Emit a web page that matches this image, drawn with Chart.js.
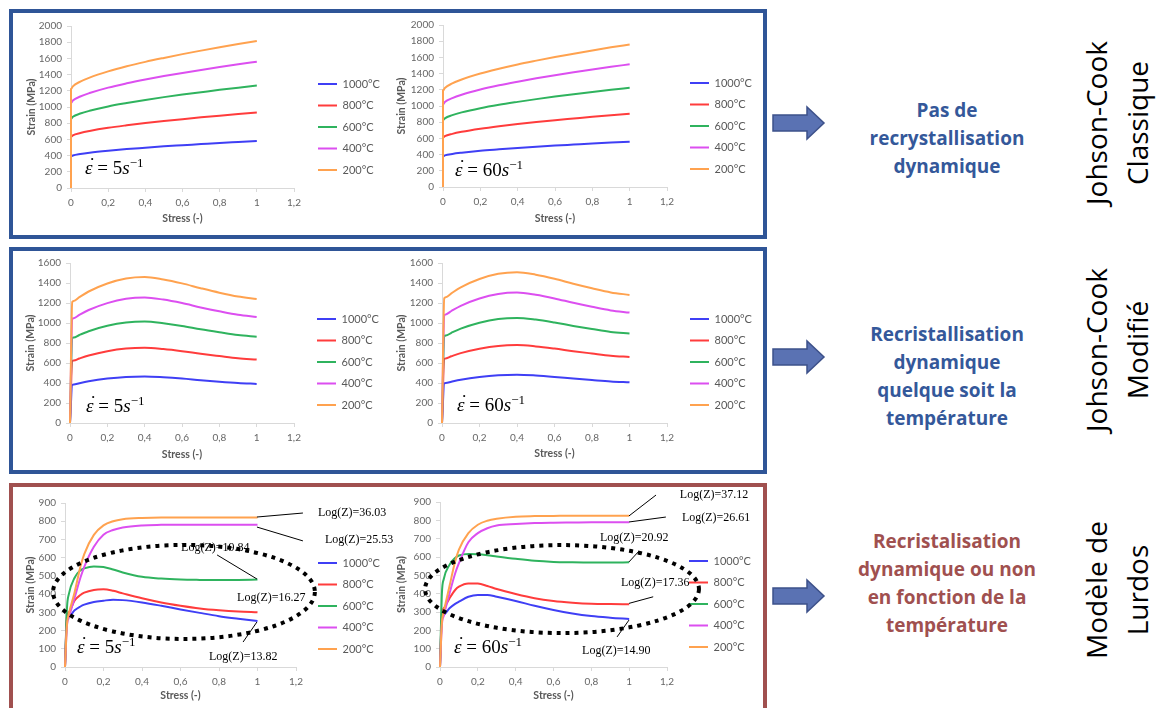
<!DOCTYPE html>
<html>
<head>
<meta charset="utf-8">
<script src="https://cdn.jsdelivr.net/npm/chart.js"></script>
<style>
  body { margin: 0; width: 1156px; height: 708px; overflow: hidden; position: relative; background: #fff; font-family: Lato, sans-serif; }
  .frame { position: absolute; box-sizing: border-box; left: 9px; width: 758px; border: 4px solid #2f5597; }
  .frame.red { border-color: #a0504f; }
  canvas { position: absolute; z-index: 2; }
  .rate { position: absolute; z-index: 3; font-family: "Liberation Serif", serif; font-size: 19px; color: #000; white-space: nowrap; transform: translateY(-50%); }
  .rate i { font-style: italic; }
  .rate .ed { position: relative; font-style: italic; }
  .rate .ed::after { content: "\02D9"; position: absolute; left: 4px; top: -3px; font-style: normal; }
  .rate sup { font-size: 13px; vertical-align: 7px; line-height: 0; }
  .note { position: absolute; left: 817px; width: 260px; text-align: center; font-family: "Open Sans", sans-serif; font-weight: 700; font-size: 19px; line-height: 28px; transform: translateY(-50%); }
  .note.blue { color: #34589a; }
  .note.red { color: #a0504f; }
  .side { position: absolute; left: 1117px; font-family: "Open Sans", sans-serif; font-size: 28px; line-height: 41px; color: #000; text-align: center; white-space: nowrap; transform: translate(-50%, -50%) rotate(-90deg); }
  .arrow { position: absolute; left: 771px; width: 56px; height: 36px; }
</style>
</head>
<body>

<div class="frame" style="top:9px;height:230px"></div>
<div class="frame" style="top:247px;height:227px"></div>
<div class="frame red" style="top:483px;height:240px"></div>

<div class="rate" style="left:85px;top:168px"><span class="ed">ε</span> = 5<i>s</i><sup>−1</sup></div>
<div class="rate" style="left:455px;top:170px"><span class="ed">ε</span> = 60<i>s</i><sup>−1</sup></div>
<div class="rate" style="left:86px;top:406px"><span class="ed">ε</span> = 5<i>s</i><sup>−1</sup></div>
<div class="rate" style="left:457px;top:405px"><span class="ed">ε</span> = 60<i>s</i><sup>−1</sup></div>
<div class="rate" style="left:77px;top:647px"><span class="ed">ε</span> = 5<i>s</i><sup>−1</sup></div>
<div class="rate" style="left:454px;top:647px"><span class="ed">ε</span> = 60<i>s</i><sup>−1</sup></div>

<svg class="arrow" style="top:105px"><polygon points="2,10 36,10 36,2 53,18 36,34 36,26 2,26" fill="#5a72b3" stroke="#3d518a" stroke-width="1.5"/></svg>
<svg class="arrow" style="top:339px"><polygon points="2,10 36,10 36,2 53,18 36,34 36,26 2,26" fill="#5a72b3" stroke="#3d518a" stroke-width="1.5"/></svg>
<svg class="arrow" style="top:578px"><polygon points="2,10 36,10 36,2 53,18 36,34 36,26 2,26" fill="#5a72b3" stroke="#3d518a" stroke-width="1.5"/></svg>

<div class="note blue" style="top:138px">Pas de<br>recrystallisation<br>dynamique</div>
<div class="note blue" style="top:376px">Recristallisation<br>dynamique<br>quelque soit la<br>température</div>
<div class="note red" style="top:583px">Recristalisation<br>dynamique ou non<br>en fonction de la<br>température</div>

<div class="side" style="top:123px">Johson-Cook<br>Classique</div>
<div class="side" style="top:350px">Johson-Cook<br>Modifié</div>
<div class="side" style="top:590px">Modèle de<br>Lurdos</div>

<script>
// ===== DATA =====
const tempLabels = ["1000°C", "800°C", "600°C", "400°C", "200°C"];
const xTickLabels = ["0", "0,2", "0,4", "0,6", "0,8", "1", "1,2"];

// Johnson-Cook classique
const jcStrain = [0, 0, 0.01, 0.05, 0.1, 0.2, 0.3, 0.4, 0.5, 0.6, 0.7, 0.8, 0.9, 1];
const jcClassic5 = [
  [0, 390, 401, 420, 436, 460, 480, 497, 514, 528, 542, 556, 568, 580],
  [0, 632, 650, 679, 704, 743, 774, 802, 827, 850, 872, 893, 913, 932],
  [0, 855, 880, 919, 953, 1007, 1049, 1087, 1122, 1154, 1183, 1212, 1239, 1265],
  [0, 1050, 1080, 1130, 1172, 1239, 1292, 1339, 1382, 1421, 1458, 1494, 1528, 1560],
  [0, 1220, 1255, 1313, 1363, 1440, 1503, 1557, 1606, 1653, 1696, 1738, 1778, 1815]
];
const jcClassic60 = [
  [0, 380, 390, 408, 423, 447, 465, 482, 497, 511, 524, 537, 549, 560],
  [0, 610, 627, 656, 681, 719, 750, 777, 802, 825, 846, 867, 886, 905],
  [0, 825, 848, 887, 921, 973, 1015, 1051, 1085, 1116, 1145, 1173, 1200, 1225],
  [0, 1020, 1049, 1097, 1139, 1203, 1255, 1300, 1342, 1380, 1416, 1451, 1484, 1515],
  [0, 1190, 1223, 1279, 1327, 1401, 1460, 1513, 1560, 1605, 1646, 1686, 1724, 1760]
];

// Johnson-Cook modifié
const jcmStrain = [0, 0.012, 0.02, 0.05, 0.1, 0.2, 0.3, 0.4, 0.5, 0.6, 0.7, 0.8, 0.9, 1];
const jcModif5 = [
  [0, 382, 385, 398, 417, 444, 461, 466, 458, 445, 428, 413, 400, 391],
  [0, 620, 625, 645, 675, 718, 744, 752, 739, 718, 692, 669, 647, 634],
  [0, 848, 854, 880, 918, 972, 1005, 1015, 998, 971, 937, 907, 879, 862],
  [0, 1040, 1048, 1081, 1130, 1199, 1242, 1255, 1234, 1199, 1156, 1117, 1082, 1060],
  [0, 1210, 1220, 1258, 1315, 1395, 1445, 1460, 1435, 1396, 1348, 1303, 1265, 1240]
];
const jcModif60 = [
  [0, 397, 400, 413, 433, 461, 478, 483, 475, 461, 444, 429, 415, 407],
  [0, 641, 646, 667, 699, 743, 771, 779, 766, 744, 718, 695, 673, 660],
  [0, 867, 874, 902, 944, 1003, 1040, 1051, 1034, 1005, 971, 940, 911, 894],
  [0, 1077, 1086, 1120, 1172, 1245, 1290, 1304, 1282, 1246, 1202, 1162, 1126, 1104],
  [0, 1248, 1258, 1297, 1357, 1440, 1492, 1508, 1483, 1442, 1392, 1347, 1306, 1281]
];

// Lurdos
const luStrain = [0, 0.01, 0.02, 0.05, 0.08, 0.1, 0.15, 0.2, 0.25, 0.3, 0.4, 0.5, 0.6, 0.7, 0.8, 0.9, 1];
const lurdos5 = [
  [0, 258, 275, 311, 332, 342, 357, 364, 369, 367, 354, 336, 316, 297, 279, 265, 252],
  [0, 275, 300, 365, 395, 408, 423, 426, 418, 404, 377, 354, 336, 321, 311, 304, 300],
  [0, 320, 400, 490, 530, 541, 552, 549, 535, 519, 495, 485, 480, 478, 477, 478, 480],
  [0, 225, 270, 380, 490, 550, 660, 726, 752, 766, 777, 780, 781, 781, 781, 781, 781],
  [0, 230, 290, 410, 550, 620, 725, 777, 800, 811, 818, 820, 820, 820, 820, 820, 820]
];
const lurdos60 = [
  [0, 270, 285, 320, 344, 356, 383, 393, 393, 383, 360, 334, 311, 292, 278, 269, 262],
  [0, 290, 320, 374, 420, 438, 456, 455, 442, 425, 398, 375, 360, 351, 345, 343, 342],
  [0, 400, 480, 557, 595, 608, 616, 615, 610, 603, 590, 579, 573, 571, 570, 570, 571],
  [0, 230, 280, 400, 510, 566, 680, 730, 757, 772, 780, 785, 787, 788, 789, 789, 789],
  [0, 240, 300, 440, 575, 640, 730, 776, 798, 809, 820, 823, 824, 825, 825, 825, 825]
];
const logZ5 = ["Log(Z)=13.82", "Log(Z)=16.27", "Log(Z)=19.84", "Log(Z)=25.53", "Log(Z)=36.03"];
const logZ60 = ["Log(Z)=14.90", "Log(Z)=17.36", "Log(Z)=20.92", "Log(Z)=26.61", "Log(Z)=37.12"];

// ===== STYLE =====
const tempColors = ["#3f3ff5", "#ff3c3c", "#2fb35e", "#dc4ff0", "#ffa24f"];
const LEG_FONT = 11, LEG_PAD = 10.5;

Chart.defaults.font.family = "Lato, sans-serif";
Chart.defaults.color = "#595959";

// moves the legend to a fixed spot (canvas coords) after layout
const legendShift = {
  id: "legendShift",
  afterLayout(chart, args, opts) {
    const lg = chart.legend;
    if (!lg) return;
    lg.left = opts.x - LEG_PAD;
    lg.right = lg.left + 140;
    lg.top = opts.y - LEG_PAD - LEG_FONT / 2;
    lg.bottom = lg.top + 220;
  }
};

// Log(Z) labels + dotted ring, placed in data units
const logzNotes = {
  id: "logz",
  afterDraw(chart, args, opts) {
    if (!opts.items) return;
    const ctx = chart.ctx, sx = chart.scales.x, sy = chart.scales.y;
    const px = v => sx.getPixelForValue(v), py = v => sy.getPixelForValue(v);
    ctx.save();
    ctx.strokeStyle = "#000";
    ctx.fillStyle = "#000";

    const r = opts.ring;
    if (r) {
      const cx = px(r.cx), cy = py(r.cy);
      ctx.beginPath();
      ctx.setLineDash([4, 5]);
      ctx.lineWidth = 4;
      ctx.ellipse(cx, cy, px(r.cx + r.rx) - cx, cy - py(r.cy + r.ry), 0, 0, Math.PI * 2);
      ctx.stroke();
      ctx.setLineDash([]);
    }

    ctx.lineWidth = 1;
    opts.items.forEach(it => {
      if (it.line) {
        ctx.beginPath();
        ctx.moveTo(px(it.line[0]), py(it.line[1]));
        ctx.lineTo(px(it.line[2]), py(it.line[3]));
        ctx.stroke();
      }
      ctx.font = '12px "Liberation Serif", serif';
      ctx.textBaseline = "middle";
      ctx.fillText(it.text, px(it.at[0]), py(it.at[1]));
    });
    ctx.restore();
  }
};

function makeChart(s) {
  const cv = document.createElement("canvas");
  cv.width = s.box[2];
  cv.height = s.box[3];
  cv.style.left = s.box[0] + "px";
  cv.style.top = s.box[1] + "px";
  document.body.appendChild(cv);

  const [bl, bt, bw, bh] = s.box;
  const datasets = s.series.map((ys, i) => ({
    label: tempLabels[i],
    data: ys.map((y, j) => ({ x: s.xs[j], y: y })),
    showLine: true,
    borderColor: tempColors[i],
    backgroundColor: tempColors[i],
    borderWidth: 2,
    pointRadius: 0,
    cubicInterpolationMode: "monotone",
    order: 4 - i,
    clip: 3
  }));

  new Chart(cv, {
    type: "scatter",
    data: { datasets },
    plugins: [legendShift, logzNotes],
    options: {
      responsive: false,
      animation: false,
      devicePixelRatio: 1,
      events: [],
      layout: { padding: { left: 0, top: s.plot[2] - bt, right: bl + bw - s.plot[1], bottom: 0 } },
      scales: {
        x: {
          type: "linear", min: 0, max: 1.2,
          afterFit: sc => { sc.height = bt + bh - s.plot[3]; },
          ticks: { stepSize: 0.2, padding: 5, color: "#666", font: { size: 10 },
                   callback: v => xTickLabels[Math.round(v / 0.2)] },
          grid: { drawOnChartArea: false, color: "#d9d9d9", tickLength: 4 },
          border: { color: "#d9d9d9" },
          title: { display: true, text: "Stress (-)", color: "#595959",
                   font: { size: 10.5, weight: "bold" },
                   padding: { top: 0, bottom: bt + bh - s.xTitle - 6.3 } }
        },
        y: {
          min: 0, max: s.yMax,
          afterFit: sc => { sc.width = s.plot[0] - bl; },
          ticks: { stepSize: s.yStep, padding: 5, color: "#666", font: { size: 10 },
                   callback: v => String(v) },
          grid: { drawOnChartArea: false, color: "#d9d9d9", tickLength: 4 },
          border: { color: "#d9d9d9" },
          title: { display: true, text: "Strain (MPa)", color: "#595959",
                   font: { size: 10.5, weight: "bold" },
                   padding: { top: s.yTitle - bl - 6.3, bottom: 0 } }
        }
      },
      plugins: {
        tooltip: { enabled: false },
        legend: {
          position: "chartArea", align: "start",
          labels: { usePointStyle: true, pointStyle: "line", pointStyleWidth: 19,
                    font: { size: LEG_FONT }, color: "#595959", padding: LEG_PAD,
                    sort: (a, b) => a.datasetIndex - b.datasetIndex }
        },
        legendShift: { x: s.legend[0] - bl, y: s.legend[1] - bt },
        logz: s.notes || {}
      }
    }
  });
}

// ===== CHARTS =====
// box: [left, top, width, height]   plot: [left, right, top, bottom]  (page px)
makeChart({ box: [14, 14, 382, 216], plot: [71, 294, 26, 188], yMax: 2000, yStep: 200,
  xs: jcStrain, series: jcClassic5, legend: [318, 84], yTitle: 32, xTitle: 219 });
makeChart({ box: [386, 14, 376, 216], plot: [443, 667, 24, 187], yMax: 2000, yStep: 200,
  xs: jcStrain, series: jcClassic60, legend: [690, 83], yTitle: 402, xTitle: 219 });
makeChart({ box: [14, 252, 382, 216], plot: [70, 294, 261, 423], yMax: 1600, yStep: 200,
  xs: jcmStrain, series: jcModif5, legend: [317, 319], yTitle: 31, xTitle: 455 });
makeChart({ box: [386, 252, 376, 216], plot: [442, 667, 261, 423], yMax: 1600, yStep: 200,
  xs: jcmStrain, series: jcModif60, legend: [690, 319], yTitle: 402, xTitle: 454 });
makeChart({ box: [14, 490, 382, 218], plot: [65, 296, 503, 667], yMax: 900, yStep: 100,
  xs: luStrain, series: lurdos5, legend: [318, 563], yTitle: 31, xTitle: 696,
  notes: {
    items: [
      { text: logZ5[0], at: [0.748, 55], line: [0.925, 137, 0.997, 247] },
      { text: logZ5[1], at: [0.894, 379] },
      { text: logZ5[2], at: [0.603, 653], line: [0.79, 615, 0.997, 483] },
      { text: logZ5[3], at: [1.35, 697], line: [0.997, 768, 1.236, 692] },
      { text: logZ5[4], at: [1.314, 845], line: [0.997, 823, 1.236, 845] }
    ],
    ring: { cx: 0.618, cy: 412, rx: 0.68, ry: 258 }
  } });
makeChart({ box: [386, 490, 376, 218], plot: [440, 667, 502, 667], yMax: 900, yStep: 100,
  xs: luStrain, series: lurdos60, legend: [689, 561], yTitle: 402, xTitle: 696,
  notes: {
    items: [
      { text: logZ60[0], at: [0.751, 87], line: [0.936, 164, 0.999, 256] },
      { text: logZ60[1], at: [0.957, 458], line: [0.999, 347, 1.127, 383] },
      { text: logZ60[2], at: [0.846, 704], line: [0.999, 573, 1.047, 627] },
      { text: logZ60[3], at: [1.279, 813], line: [0.999, 791, 1.194, 818] },
      { text: logZ60[4], at: [1.268, 938], line: [0.999, 824, 1.142, 938] }
    ],
    ring: { cx: 0.645, cy: 425, rx: 0.724, ry: 240 }
  } });
</script>
</body>
</html>
